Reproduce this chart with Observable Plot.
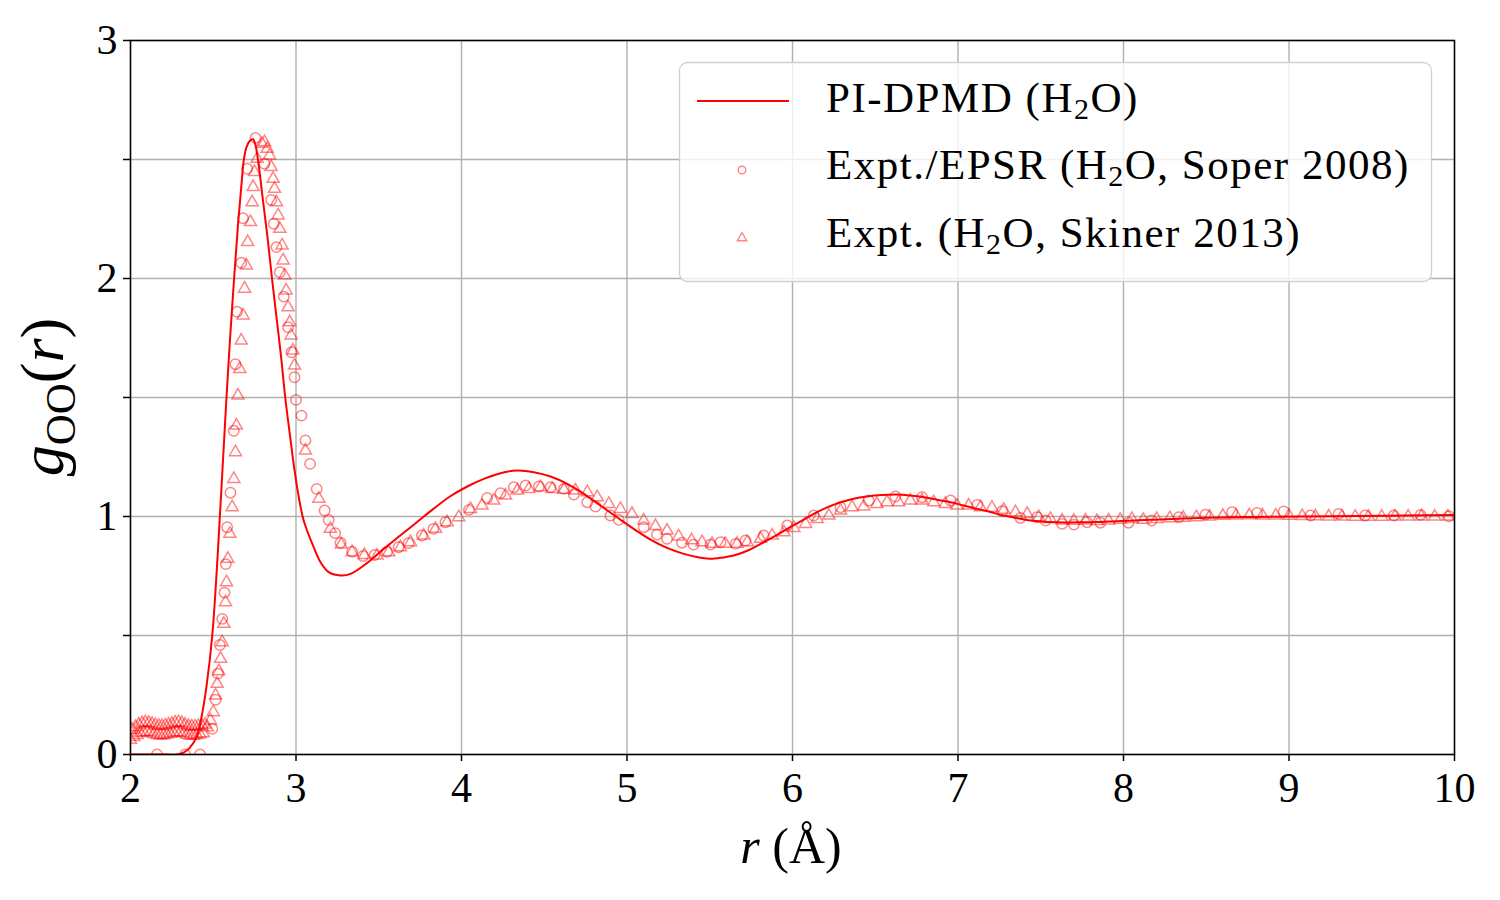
<!DOCTYPE html>
<html>
<head>
<meta charset="utf-8">
<script src="https://cdn.jsdelivr.net/npm/d3@7"></script>
<script src="https://cdn.jsdelivr.net/npm/@observablehq/plot@0.6"></script>
<style>
  html, body { margin: 0; padding: 0; background: #fff; }
</style>
</head>
<body>
<div id="chart"></div>
<script>
// Oxygen–oxygen radial distribution function of liquid water.

// PI-DPMD (H2O): r in Å, g_OO(r)
const dpmdR = [2.00, 2.10, 2.20, 2.28, 2.32, 2.36, 2.40, 2.43, 2.46, 2.494, 2.52, 2.54, 2.56, 2.58, 2.60, 2.626, 2.65, 2.67, 2.685, 2.70, 2.72, 2.74, 2.755, 2.77, 2.80, 2.83, 2.855, 2.88, 2.91, 2.935, 2.96, 2.99, 3.017, 3.04, 3.057, 3.107, 3.148, 3.198, 3.27, 3.33, 3.43, 3.53, 3.63, 3.73, 3.83, 3.93, 4.035, 4.135, 4.236, 4.337, 4.437, 4.538, 4.639, 4.74, 4.84, 4.94, 5.04, 5.142, 5.242, 5.343, 5.444, 5.504, 5.58, 5.645, 5.73, 5.807, 5.888, 5.968, 6.05, 6.128, 6.21, 6.29, 6.37, 6.45, 6.54, 6.632, 6.71, 6.793, 6.875, 6.955, 7.035, 7.116, 7.20, 7.277, 7.36, 7.438, 7.52, 7.60, 7.68, 7.76, 7.86, 7.96, 8.16, 8.465, 8.80, 9.07, 9.40, 9.70, 10.00];
const dpmdG = [0, 0, 0, 0, 0.008, 0.03, 0.075, 0.16, 0.29, 0.50, 0.76, 1.00, 1.25, 1.50, 1.73, 2.00, 2.23, 2.39, 2.50, 2.55, 2.578, 2.585, 2.56, 2.50, 2.33, 2.16, 2.00, 1.85, 1.67, 1.50, 1.36, 1.20, 1.08, 1.00, 0.96, 0.871, 0.808, 0.766, 0.752, 0.759, 0.805, 0.864, 0.92, 0.976, 1.032, 1.084, 1.126, 1.158, 1.182, 1.193, 1.186, 1.168, 1.137, 1.095, 1.046, 0.997, 0.948, 0.903, 0.868, 0.843, 0.827, 0.822, 0.828, 0.836, 0.857, 0.885, 0.915, 0.948, 0.98, 1.011, 1.038, 1.06, 1.075, 1.084, 1.09, 1.092, 1.088, 1.081, 1.07, 1.06, 1.046, 1.032, 1.018, 1.004, 0.993, 0.983, 0.978, 0.976, 0.975, 0.976, 0.977, 0.98, 0.986, 0.994, 0.998, 1.0, 1.002, 1.004, 1.006];

// Expt./EPSR (H2O, Soper 2008)
const soperR = [2.16, 2.33, 2.42, 2.494, 2.514, 2.528, 2.54, 2.554, 2.568, 2.576, 2.584, 2.604, 2.624, 2.634, 2.644, 2.669, 2.68, 2.705, 2.755, 2.81, 2.85, 2.866, 2.882, 2.902, 2.926, 2.952, 2.973, 2.991, 3.00, 3.033, 3.057, 3.085, 3.125, 3.173, 3.198, 3.237, 3.269, 3.339, 3.405, 3.475, 3.55, 3.62, 3.68, 3.761, 3.83, 3.903, 4.045, 4.155, 4.236, 4.316, 4.387, 4.468, 4.538, 4.619, 4.679, 4.76, 4.81, 4.90, 4.95, 5.101, 5.181, 5.242, 5.332, 5.402, 5.504, 5.565, 5.656, 5.716, 5.826, 5.968, 6.128, 6.29, 6.46, 6.622, 6.783, 6.955, 7.116, 7.267, 7.377, 7.478, 7.529, 7.629, 7.70, 7.78, 7.86, 8.03, 8.17, 8.334, 8.495, 8.656, 8.807, 8.968, 9.13, 9.30, 9.46, 9.633, 9.795, 9.966];
const soperG = [0, 0, 0, 0.108, 0.23, 0.34, 0.46, 0.57, 0.68, 0.80, 0.955, 1.10, 1.36, 1.64, 1.86, 2.066, 2.253, 2.461, 2.591, 2.482, 2.33, 2.23, 2.132, 2.026, 1.924, 1.795, 1.69, 1.585, 1.49, 1.424, 1.32, 1.221, 1.116, 1.025, 0.985, 0.93, 0.89, 0.852, 0.834, 0.838, 0.852, 0.871, 0.888, 0.92, 0.948, 0.976, 1.028, 1.078, 1.098, 1.123, 1.13, 1.126, 1.123, 1.116, 1.092, 1.06, 1.042, 1.004, 0.986, 0.955, 0.924, 0.906, 0.89, 0.882, 0.882, 0.892, 0.885, 0.899, 0.92, 0.962, 1.004, 1.039, 1.067, 1.084, 1.081, 1.067, 1.049, 1.022, 0.994, 0.997, 0.983, 0.969, 0.966, 0.976, 0.974, 0.974, 0.983, 0.997, 1.008, 1.018, 1.015, 1.021, 1.004, 1.011, 1.004, 1.004, 1.007, 1.001];

// Expt. (H2O, Skinner 2013)
const skinnerR = [2.00, 2.01, 2.02, 2.03, 2.04, 2.05, 2.06, 2.07, 2.08, 2.09, 2.10, 2.11, 2.12, 2.13, 2.14, 2.15, 2.16, 2.17, 2.18, 2.19, 2.20, 2.21, 2.22, 2.23, 2.24, 2.25, 2.26, 2.27, 2.28, 2.29, 2.30, 2.31, 2.32, 2.33, 2.34, 2.35, 2.36, 2.37, 2.38, 2.39, 2.40, 2.41, 2.42, 2.43, 2.44, 2.45, 2.463, 2.483, 2.50, 2.514, 2.524, 2.534, 2.544, 2.554, 2.564, 2.574, 2.58, 2.588, 2.60, 2.614, 2.624, 2.634, 2.64, 2.649, 2.66, 2.669, 2.68, 2.689, 2.70, 2.708, 2.725, 2.735, 2.741, 2.749, 2.765, 2.795, 2.81, 2.826, 2.84, 2.85, 2.862, 2.87, 2.882, 2.892, 2.902, 2.916, 2.922, 2.932, 2.94, 2.952, 2.962, 2.97, 2.982, 2.991, 3.057, 3.138, 3.207, 3.273, 3.339, 3.413, 3.49, 3.56, 3.631, 3.692, 3.772, 3.843, 3.913, 3.983, 4.054, 4.124, 4.195, 4.266, 4.337, 4.407, 4.477, 4.548, 4.619, 4.689, 4.76, 4.82, 4.89, 4.96, 5.03, 5.101, 5.172, 5.242, 5.312, 5.39, 5.453, 5.514, 5.594, 5.665, 5.726, 5.807, 5.877, 5.948, 6.008, 6.079, 6.149, 6.22, 6.29, 6.36, 6.43, 6.51, 6.571, 6.642, 6.712, 6.783, 6.853, 6.923, 6.994, 7.064, 7.136, 7.205, 7.277, 7.347, 7.418, 7.488, 7.558, 7.629, 7.70, 7.77, 7.84, 7.91, 7.98, 8.05, 8.12, 8.20, 8.28, 8.36, 8.44, 8.52, 8.60, 8.68, 8.76, 8.84, 8.92, 9.00, 9.08, 9.16, 9.24, 9.32, 9.40, 9.48, 9.56, 9.64, 9.72, 9.80, 9.88, 9.96];
const skinnerG = [0.062, 0.104, 0.074, 0.116, 0.082, 0.126, 0.090, 0.132, 0.094, 0.135, 0.096, 0.133, 0.092, 0.129, 0.086, 0.124, 0.082, 0.121, 0.080, 0.120, 0.081, 0.122, 0.084, 0.126, 0.087, 0.129, 0.091, 0.134, 0.094, 0.136, 0.093, 0.132, 0.089, 0.126, 0.083, 0.120, 0.080, 0.118, 0.079, 0.118, 0.082, 0.120, 0.085, 0.122, 0.089, 0.126, 0.115, 0.143, 0.178, 0.248, 0.297, 0.35, 0.402, 0.472, 0.549, 0.64, 0.724, 0.822, 0.927, 1.039, 1.158, 1.27, 1.382, 1.508, 1.62, 1.739, 1.845, 1.957, 2.055, 2.153, 2.237, 2.32, 2.384, 2.447, 2.503, 2.566, 2.573, 2.545, 2.517, 2.468, 2.419, 2.377, 2.32, 2.265, 2.209, 2.139, 2.076, 2.013, 1.95, 1.879, 1.816, 1.761, 1.697, 1.634, 1.277, 1.075, 0.948, 0.882, 0.85, 0.838, 0.836, 0.85, 0.871, 0.892, 0.92, 0.948, 0.976, 0.997, 1.032, 1.046, 1.067, 1.088, 1.109, 1.116, 1.123, 1.116, 1.112, 1.109, 1.102, 1.081, 1.053, 1.032, 1.011, 0.983, 0.96, 0.941, 0.916, 0.90, 0.892, 0.885, 0.885, 0.885, 0.892, 0.906, 0.92, 0.934, 0.952, 0.969, 0.99, 1.004, 1.025, 1.039, 1.042, 1.053, 1.06, 1.06, 1.067, 1.067, 1.06, 1.053, 1.046, 1.046, 1.039, 1.037, 1.028, 1.018, 1.011, 0.997, 0.99, 0.983, 0.982, 0.983, 0.981, 0.983, 0.986, 0.99, 0.986, 0.99, 0.993, 0.995, 0.997, 1.0, 1.003, 1.004, 1.005, 1.004, 1.004, 1.003, 1.002, 1.001, 1.0, 1.0, 0.999, 0.999, 0.999, 1.0, 1.0, 1.0, 1.0, 1.0];

// Axis ticks
const xTicks = [2, 3, 4, 5, 6, 7, 8, 9, 10];
const yTicks = [0, 0.5, 1, 1.5, 2, 2.5, 3];

const pairs = (rs, gs) => rs.map((r, i) => ({r, g: gs[i]}));
const dpmd = pairs(dpmdR, dpmdG);
const soper = pairs(soperR, soperG);
const skinner = pairs(skinnerR, skinnerG);

const serif = "'Liberation Serif', 'DejaVu Serif', serif";
const gridStyle = {stroke: "#b0b0b0", strokeOpacity: 1, strokeWidth: 1.4};
const markerStyle = {fill: "none", stroke: "#ff0000", strokeOpacity: 0.48, strokeWidth: 1.5, clip: true};

const chart = Plot.plot({
  width: 1500,
  height: 900,
  marginLeft: 130,
  marginRight: 46,
  marginTop: 40,
  marginBottom: 146,
  style: {fontFamily: serif, background: "#fff", color: "#000"},
  x: {domain: [2, 10]},
  y: {domain: [0, 3]},
  marks: [
    Plot.gridX(xTicks, gridStyle),
    Plot.gridY(yTicks, gridStyle),
    Plot.axisX(xTicks, {
      tickSize: 7, tickPadding: 11, fontSize: 42, label: null,
      stroke: "#000", strokeWidth: 1.5, tickFormat: d => String(d)
    }),
    Plot.axisY(yTicks, {
      tickSize: 7, tickPadding: 6, fontSize: 42, label: null,
      stroke: "#000", strokeWidth: 1.5,
      tickFormat: d => Number.isInteger(d) ? String(d) : ""
    }),
    Plot.line(dpmd, {x: "r", y: "g", stroke: "#ff0000", strokeWidth: 2, curve: "catmull-rom", clip: true}),
    Plot.dot(soper, {x: "r", y: "g", r: 5.2, symbol: "circle", ...markerStyle}),
    Plot.dot(skinner, {x: "r", y: "g", r: 4.5, symbol: "triangle", ...markerStyle}),
    Plot.frame({stroke: "#000", strokeWidth: 1.5})
  ]
});

document.getElementById("chart").appendChild(chart);

const svg = d3.select(chart);

// y-axis title: g_OO(r)
const yTitle = svg.append("text")
  .attr("transform", "translate(63,397) rotate(-90)")
  .attr("text-anchor", "middle")
  .attr("fill", "#000")
  .style("font-family", serif)
  .style("font-size", "62px");
yTitle.append("tspan").attr("font-style", "italic").text("g");
yTitle.append("tspan").attr("dy", 12).style("font-size", "43px").text("OO");
yTitle.append("tspan").attr("dy", -12).text("(");
yTitle.append("tspan").attr("font-style", "italic").text("r");
yTitle.append("tspan").text(")");

// x-axis title: r (Å)
const xTitle = svg.append("text")
  .attr("x", 791)
  .attr("y", 863)
  .attr("text-anchor", "middle")
  .attr("fill", "#000")
  .style("font-family", serif)
  .style("font-size", "50px");
xTitle.append("tspan").attr("font-style", "italic").text("r");
xTitle.append("tspan").text(" (Å)");

// Legend
const legend = svg.append("g").attr("text-anchor", "start");
legend.append("rect")
  .attr("x", 679.5).attr("y", 62.5)
  .attr("width", 752).attr("height", 219)
  .attr("rx", 8).attr("ry", 8)
  .attr("fill", "#fff").attr("fill-opacity", 0.8)
  .attr("stroke", "#d0d0d0").attr("stroke-width", 1.3);

legend.append("line")
  .attr("x1", 697).attr("x2", 789)
  .attr("y1", 101).attr("y2", 101)
  .attr("stroke", "#ff0000").attr("stroke-width", 2);

legend.append("circle")
  .attr("cx", 742).attr("cy", 170).attr("r", 3.8)
  .attr("fill", "none").attr("stroke", "#ff0000")
  .attr("stroke-opacity", 0.48).attr("stroke-width", 1.4);

legend.append("path")
  .attr("transform", "translate(742,238)")
  .attr("d", d3.symbol(d3.symbolTriangle, Math.PI * 3.5 * 3.5)())
  .attr("fill", "none").attr("stroke", "#ff0000")
  .attr("stroke-opacity", 0.48).attr("stroke-width", 1.4);

const entries = [
  {y: 112, pre: "PI-DPMD (H", post: "O)"},
  {y: 179, pre: "Expt./EPSR (H", post: "O, Soper 2008)"},
  {y: 247, pre: "Expt. (H", post: "O, Skiner 2013)"}
];
for (const e of entries) {
  const t = legend.append("text")
    .attr("x", 826).attr("y", e.y)
    .attr("text-anchor", "start")
    .attr("fill", "#000")
    .style("font-family", serif)
    .style("font-size", "43px")
    .style("letter-spacing", "1.5px");
  t.append("tspan").text(e.pre);
  t.append("tspan").attr("dy", 7).style("font-size", "30px").text("2");
  t.append("tspan").attr("dy", -7).text(e.post);
}
</script>
</body>
</html>
